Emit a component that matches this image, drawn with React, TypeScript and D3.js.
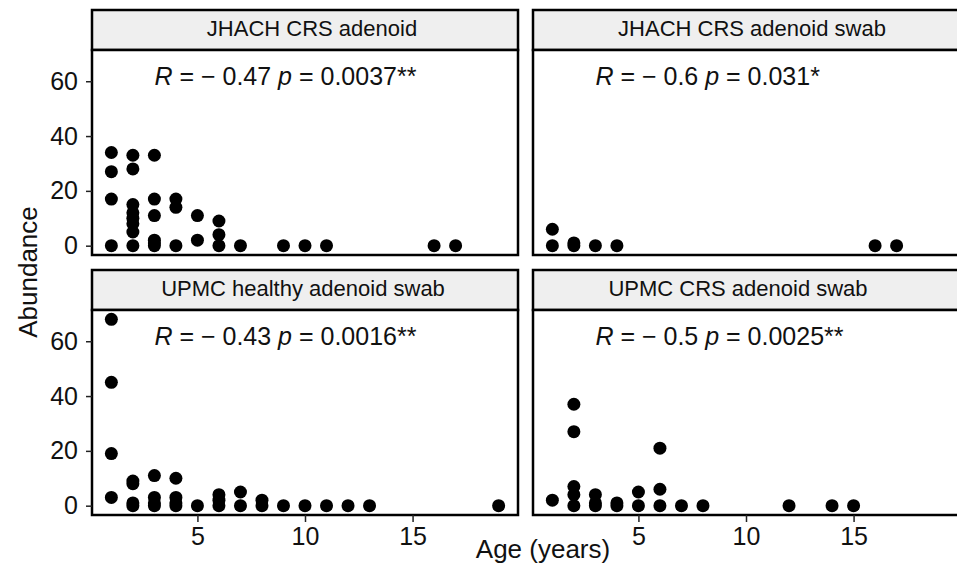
import React, { useEffect, useRef } from "react";
import * as d3 from "d3";

// panel titles and correlation labels
const panelTitles = [
  "JHACH CRS adenoid",
  "JHACH CRS adenoid swab",
  "UPMC healthy adenoid swab",
  "UPMC CRS adenoid swab",
];
const rValues = ["0.47", "0.6", "0.43", "0.5"];
const pValues = ["0.0037**", "0.031*", "0.0016**", "0.0025**"];

// points, one pair of arrays per panel
const age1 = [1, 1, 1, 1, 2, 2, 2, 2, 2, 2, 2, 2, 3, 3, 3, 3, 3, 3, 4, 4, 4, 5, 5, 6, 6, 6, 7, 9, 10, 11, 16, 17];
const abund1 = [34, 27, 17, 0, 33, 28, 15, 12, 10, 8, 5, 0, 33, 17, 11, 2, 1, 0, 17, 14, 0, 11, 2, 9, 4, 0, 0, 0, 0, 0, 0, 0];

const age2 = [1, 1, 2, 2, 3, 4, 16, 17];
const abund2 = [6, 0, 1, 0, 0, 0, 0, 0];

const age3 = [1, 1, 1, 1, 2, 2, 2, 2, 3, 3, 3, 3, 4, 4, 4, 4, 5, 6, 6, 6, 7, 7, 8, 8, 9, 10, 11, 12, 13, 19];
const abund3 = [68, 45, 19, 3, 9, 8, 1, 0, 11, 3, 1, 0, 10, 3, 1, 0, 0, 4, 2, 0, 5, 0, 2, 0, 0, 0, 0, 0, 0, 0];

const age4 = [1, 2, 2, 2, 2, 2, 3, 3, 3, 4, 4, 5, 5, 6, 6, 6, 7, 8, 12, 14, 15];
const abund4 = [2, 37, 27, 7, 4, 0, 4, 1, 0, 1, 0, 5, 0, 21, 6, 0, 0, 0, 0, 0, 0];

const ages = [age1, age2, age3, age4];
const abundances = [abund1, abund2, abund3, abund4];

const yTicks = [0, 20, 40, 60];
const xTicks = [5, 10, 15];

// layout
const W = 957;
const H = 564;
const colX = [92, 533];
const rowY = [10, 270];
const panelW = 426;
const stripH = 40;
const plotH = 205;
const stripShift = [7, 6, -2, -8];
const FONT = "'Liberation Sans', Arial, Helvetica, sans-serif";

export default function App() {
  const ref = useRef<SVGSVGElement>(null);

  useEffect(() => {
    document.body.style.margin = "0";
    const svg = d3.select(ref.current);
    svg.selectAll("*").remove();

    const x = d3.scaleLinear().domain([0.1, 19.9]).range([0, panelW]);
    const y = d3.scaleLinear().domain([-3.4, 71.4]).range([plotH, 0]);

    panelTitles.forEach((title, i) => {
      const col = i % 2;
      const row = Math.floor(i / 2);
      const g = svg
        .append("g")
        .attr("transform", `translate(${colX[col]}, ${rowY[row]})`);

      // strip
      g.append("rect")
        .attr("width", panelW)
        .attr("height", stripH)
        .attr("fill", "#efefef")
        .attr("stroke", "#000")
        .attr("stroke-width", 2.5);
      g.append("text")
        .attr("x", panelW / 2 + stripShift[i])
        .attr("y", 26)
        .attr("text-anchor", "middle")
        .attr("font-size", 22)
        .attr("fill", "#111")
        .text(title);

      const plot = g.append("g").attr("transform", `translate(0, ${stripH})`);
      plot
        .append("rect")
        .attr("width", panelW)
        .attr("height", plotH)
        .attr("fill", "#fff");

      const pts = ages[i].map((a, k) => [a, abundances[i][k]]);
      plot
        .selectAll(".pt")
        .data(pts)
        .join("circle")
        .attr("class", "pt")
        .attr("cx", (d) => x(d[0]))
        .attr("cy", (d) => y(d[1]))
        .attr("r", 6.5)
        .attr("fill", "#000");

      // correlation label
      const lab = plot
        .append("text")
        .attr("x", x(3))
        .attr("y", y(60) + 4)
        .attr("font-size", 25)
        .attr("fill", "#111");
      lab.append("tspan").attr("font-style", "italic").text("R");
      lab.append("tspan").text(` = \u2212 ${rValues[i]} `);
      lab.append("tspan").attr("font-style", "italic").text("p");
      lab.append("tspan").text(` = ${pValues[i]}`);

      plot
        .append("rect")
        .attr("width", panelW)
        .attr("height", plotH)
        .attr("fill", "none")
        .attr("stroke", "#000")
        .attr("stroke-width", 2.5);

      if (col === 0) {
        const ya = plot
          .append("g")
          .call(d3.axisLeft(y).tickValues(yTicks).tickSize(6).tickPadding(8));
        ya.select(".domain").remove();
        ya.selectAll("line").attr("stroke", "#222").attr("stroke-width", 1.5);
        ya.selectAll("text")
          .attr("font-size", 25)
          .attr("font-family", FONT)
          .attr("fill", "#111");
      }
      if (row === 1) {
        const xa = plot
          .append("g")
          .attr("transform", `translate(0, ${plotH})`)
          .call(d3.axisBottom(x).tickValues(xTicks).tickSize(7).tickPadding(5));
        xa.select(".domain").remove();
        xa.selectAll("line").attr("stroke", "#222").attr("stroke-width", 1.5);
        xa.selectAll("text")
          .attr("font-size", 25)
          .attr("font-family", FONT)
          .attr("fill", "#111");
      }
    });

    svg
      .append("text")
      .attr("transform", `translate(37, 272) rotate(-90)`)
      .attr("text-anchor", "middle")
      .attr("font-size", 26)
      .attr("fill", "#111")
      .text("Abundance");

    svg
      .append("text")
      .attr("x", 543)
      .attr("y", 558)
      .attr("text-anchor", "middle")
      .attr("font-size", 26)
      .attr("fill", "#111")
      .text("Age (years)");
  }, []);

  return (
    <svg
      ref={ref}
      width={W}
      height={H}
      style={{ display: "block", background: "#fff", fontFamily: FONT }}
    />
  );
}
